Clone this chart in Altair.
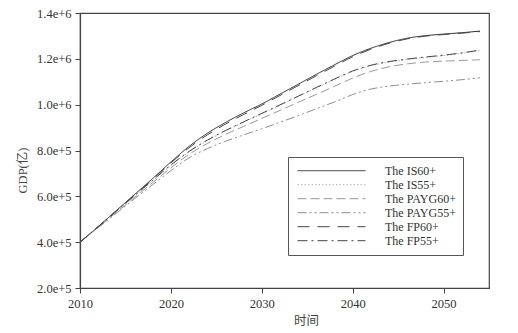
import altair as alt
import pandas as pd

years = [2010, 2012, 2014, 2016, 2018, 2020, 2022, 2024, 2026, 2028, 2030, 2032,
         2034, 2036, 2038, 2040, 2042, 2044, 2046, 2048, 2050, 2052, 2054]

is60 = [400000, 468000, 538000, 608000, 678000, 750000, 818000, 875000, 922000, 964000, 1003000, 1046000,
        1089000, 1132000, 1174000, 1214000, 1246000, 1271000, 1290000, 1301000, 1308000, 1314000, 1321000]
is55 = [400000, 467000, 534000, 601000, 668000, 734000, 794000, 843000, 885000, 923000, 960000, 997000,
        1035000, 1073000, 1110000, 1145000, 1170000, 1186000, 1197000, 1206000, 1214000, 1224000, 1236000]
payg60 = [400000, 465000, 530000, 595000, 660000, 724000, 784000, 830000, 870000, 905000, 940000, 975000,
          1010000, 1045000, 1080000, 1116000, 1145000, 1165000, 1178000, 1186000, 1190000, 1193000, 1196000]
payg55 = [400000, 463000, 526000, 589000, 651000, 712000, 768000, 808000, 840000, 868000, 895000, 923000,
          952000, 982000, 1012000, 1044000, 1068000, 1081000, 1089000, 1096000, 1102000, 1109000, 1117000]
fp60 = [400000, 468000, 537000, 606000, 675000, 746000, 812000, 868000, 915000, 957000, 997000, 1040000,
        1083000, 1126000, 1168000, 1209000, 1242000, 1268000, 1287000, 1299000, 1306000, 1312000, 1319000]
fp55 = [400000, 467000, 535000, 603000, 670000, 737000, 796000, 845000, 887000, 925000, 962000, 999000,
        1037000, 1075000, 1112000, 1147000, 1172000, 1188000, 1199000, 1208000, 1216000, 1226000, 1238000]

series_names = ["The IS60+", "The IS55+", "The PAYG60+", "The PAYG55+", "The FP60+", "The FP55+"]
series_values = [is60, is55, payg60, payg55, fp60, fp55]

x_ticks = [2010, 2020, 2030, 2040, 2050]
y_ticks = [200000, 400000, 600000, 800000, 1000000, 1200000, 1400000]

rows = []
for name, vals in zip(series_names, series_values):
    for yr, v in zip(years, vals):
        rows.append({"year": yr, "gdp": v, "series": name})
df = pd.DataFrame(rows)

serif = "Liberation Serif, Noto Sans CJK SC"

color_range = ["#2a2a2a", "#b0b0b0", "#999999", "#8e8e8e", "#464646", "#464646"]
dash_range = [[1, 0], [1.5, 2], [9, 4], [9, 3, 2, 3, 2, 3], [12, 8], [10, 4, 2, 4]]
width_range = [1.0, 1.0, 2.5, 2.5, 1.0, 1.0]

legend = alt.Legend(
    title=None, orient="none", legendX=208, legendY=144,
    symbolType="stroke", symbolSize=4624, clipHeight=13.4, rowPadding=0,
    padding=7, symbolOffset=2, labelOffset=19,
    labelFont=serif, labelFontSize=12, labelColor="#333",
    strokeColor="#555", fillColor="white",
)

chart = alt.Chart(df).mark_line(interpolate="monotone").encode(
    x=alt.X("year:Q", scale=alt.Scale(domain=[2010, 2055], nice=False, zero=False),
            axis=alt.Axis(values=x_ticks, format="d", title="时间", titleX=226, titleY=32,
                          titleBaseline="middle", titleAlign="center", labelFlush=False)),
    y=alt.Y("gdp:Q", scale=alt.Scale(domain=[200000, 1400000], nice=False, zero=False),
            axis=alt.Axis(values=y_ticks, format=".1e", title="GDP(亿)", titleX=-58, titleY=157,
                          titleBaseline="middle", titleAlign="center", titleAngle=-90,
                          labelFlush=False)),
    color=alt.Color("series:N", scale=alt.Scale(domain=series_names, range=color_range), legend=legend,
                    sort=series_names),
    strokeDash=alt.StrokeDash("series:N", scale=alt.Scale(domain=series_names, range=dash_range),
                              legend=legend, sort=series_names),
    strokeWidth=alt.StrokeWidth("series:N", scale=alt.Scale(domain=series_names, range=width_range),
                                legend=legend, sort=series_names),
).properties(
    width=409, height=275,
    autosize=alt.AutoSizeParams(type="none"),
    padding={"left": 80, "top": 13, "right": 29, "bottom": 45},
).configure_view(
    stroke="#444", strokeWidth=1.2
).configure_axis(
    grid=False, domainColor="#444", tickColor="#444", tickSize=5, domainWidth=1.2,
    labelFont=serif, labelFontSize=12.5, labelColor="#333", labelPadding=4,
    titleFont=serif, titleFontSize=12.5, titleColor="#444", titleFontWeight="normal",
)

chart.save("out.html", embed_options={"renderer": "svg", "actions": False})
